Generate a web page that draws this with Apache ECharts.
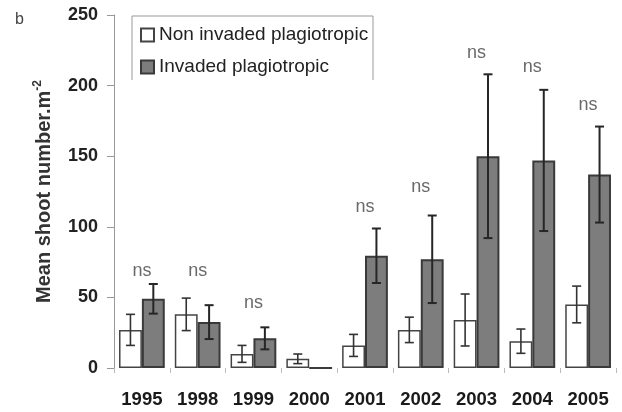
<!DOCTYPE html>
<html><head><meta charset="utf-8">
<script src="https://cdn.jsdelivr.net/npm/echarts@6/dist/echarts.min.js"></script>
<style>html,body{margin:0;padding:0;background:#fff}#c{width:622px;height:412px}</style>
</head><body><div id="c"></div>
<script>
var years = ['1995','1998','1999','2000','2001','2002','2003','2004','2005'];
var nonInvaded = [27, 38, 10, 6.5, 16, 27, 34, 19, 45];
var nonInvadedErr = [11, 11.5, 6, 3.4, 7.8, 9, 18.4, 8.6, 13];
var invaded = [49, 32.5, 21, 0, 79.5, 77, 150, 147, 137];
var invadedErr = [10.5, 12, 7.8, 0, 19.3, 31, 58, 50, 34];
var nsLevel = [69, 69, 46, null, 114, 128, 223, 213, 186];
var yTicks = [0, 50, 100, 150, 200, 250];

var FONT = '"Liberation Sans", Arial, sans-serif';
var chart = echarts.init(document.getElementById('c'), null, {renderer:'canvas'});

function errSeries(vals, errs, side, color, lw) {
  return {
    type: 'custom',
    z: 5,
    silent: true,
    data: vals.map(function(v, i){ return [i, v, errs[i]]; }),
    renderItem: function(params, api) {
      var i = api.value(0), v = api.value(1), e = api.value(2);
      if (!e) return null;
      var w = api.size([1, 0])[0];
      var bw = w * 0.82 / 2;
      var c = api.coord([i, v]);
      var x = c[0] + side * bw / 2;
      var top = api.coord([i, v + e])[1];
      var bot = api.coord([i, v - e])[1];
      var cap = 4.5;
      var st = {stroke: color, lineWidth: lw};
      return {type: 'group', children: [
        {type: 'line', shape: {x1: x, y1: top, x2: x, y2: bot}, style: st},
        {type: 'line', shape: {x1: x - cap, y1: top, x2: x + cap, y2: top}, style: st},
        {type: 'line', shape: {x1: x - cap, y1: bot, x2: x + cap, y2: bot}, style: st}
      ]};
    }
  };
}

chart.setOption({
  backgroundColor: '#fff',
  animation: false,
  textStyle: {fontFamily: FONT},
  grid: {left: 114, right: 6, top: 15, bottom: 44, containLabel: false},
  legend: {
    orient: 'vertical', left: 132, top: 16,
    padding: [8, 6, 4, 8],
    itemWidth: 13, itemHeight: 13, itemGap: 10, icon: 'rect',
    textStyle: {fontFamily: FONT, fontSize: 19, color: '#222', lineHeight: 22},
    data: ['Non invaded plagiotropic', 'Invaded plagiotropic']
  },
  graphic: [
    {type: 'polyline', shape: {points: [[132, 80], [132, 16], [373, 16], [373, 80]]},
     style: {stroke: '#999', lineWidth: 1, fill: null}, silent: true},
    {type: 'text', left: 15, top: 12, style: {text: 'b', font: '16px ' + FONT, fill: '#444'}}
  ],
  xAxis: {
    type: 'category', data: years,
    axisLine: {show: false},
    axisTick: {show: true, length: 5, lineStyle: {color: '#bbb'}},
    axisLabel: {margin: 22, fontSize: 18.5, fontWeight: 'bold', color: '#1a1a1a', fontFamily: FONT}
  },
  yAxis: {
    type: 'value', min: 0, max: 250, interval: 50,
    name: '{a|Mean shoot number.m}{b|-2}',
    nameLocation: 'middle', nameRotate: 90, nameGap: 58,
    nameTextStyle: {
      rich: {
        a: {fontSize: 20, fontWeight: 'bold', color: '#333', fontFamily: FONT, lineHeight: 24},
        b: {fontSize: 12, fontWeight: 'bold', color: '#333', fontFamily: FONT, verticalAlign: 'top', lineHeight: 24, padding: [0,0,11,0]}
      }
    },
    axisLine: {show: true, lineStyle: {color: '#999', width: 1}},
    axisTick: {show: true, length: 7, lineStyle: {color: '#999'}},
    splitLine: {show: false},
    axisLabel: {margin: 16, fontSize: 18, fontWeight: 'bold', color: '#222', fontFamily: FONT,
      formatter: function(v){ return yTicks.indexOf(v) >= 0 ? String(v) : ''; }}
  },
  series: [
    {name: 'Non invaded plagiotropic', type: 'bar', data: nonInvaded,
     barGap: '0%', barCategoryGap: '18%',
     itemStyle: {color: '#ffffff', borderColor: '#444', borderWidth: 1.5}},
    {name: 'Invaded plagiotropic', type: 'bar', data: invaded,
     barGap: '0%', barCategoryGap: '18%',
     itemStyle: {color: '#7d7d7d', borderColor: '#3a3a3a', borderWidth: 2}},
    errSeries(nonInvaded, nonInvadedErr, -1, '#333', 1.6),
    errSeries(invaded, invadedErr, 1, '#262626', 2),
    {type: 'scatter', symbolSize: 0, silent: true,
     data: nsLevel.map(function(v, i){ return v == null ? null : [i, v]; }),
     label: {show: true, position: 'inside', formatter: 'ns', fontSize: 18, color: '#444', fontFamily: FONT}}
  ]
});
</script></body></html>
